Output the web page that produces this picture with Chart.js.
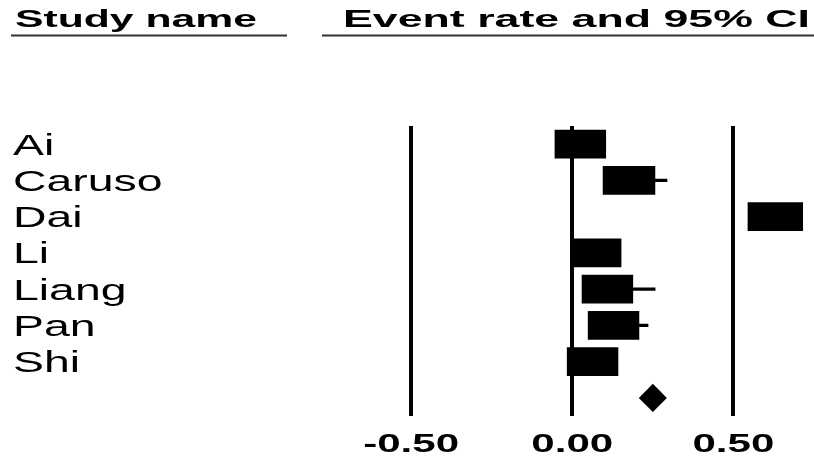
<!DOCTYPE html>
<html>
<head>
<meta charset="utf-8">
<title>Event rate and 95% CI</title>
<script src="https://cdn.jsdelivr.net/npm/chart.js@4.4.1/dist/chart.umd.min.js"></script>
<style>
  html, body { margin: 0; padding: 0; background: #fff; }
  #wrap { position: relative; width: 814px; height: 459px; }
</style>
</head>
<body>
<div id="wrap"><canvas id="forest"></canvas></div>
<script>
// study rows, top to bottom
const studies = ["Ai", "Caruso", "Dai", "Li", "Liang", "Pan", "Shi"];
const eventRate = [0.025, 0.176, 0.630, 0.077, 0.109, 0.128, 0.063];
const lowerCI = [-0.01, 0.11, 0.57, 0.03, 0.04, 0.06, 0.02];
const upperCI = [0.07, 0.294, 0.69, 0.13, 0.257, 0.235, 0.11];
const relWeight = [14.2, 14.5, 15.3, 13.4, 14.2, 14.2, 14.2];

// pooled estimate (diamond)
const summaryRate = 0.250;
const summaryLower = 0.207;
const summaryUpper = 0.294;

const tickValues = [-0.5, 0, 0.5];
const tickLabels = ["-0.50", "0.00", "0.50"];

const rows = [...studies, ""];

// box width (in event-rate units) per percent of weight
const BOX_PER_WEIGHT = 0.0111;

const ciRanges = studies.map((s, i) => [lowerCI[i], upperCI[i]]);
const boxRanges = studies.map((s, i) => {
    const half = relWeight[i] * BOX_PER_WEIGHT / 2;
    return [eventRate[i] - half, eventRate[i] + half];
});

const FONT = '"Liberation Sans", Arial, Helvetica, sans-serif';

function stretchText(ctx, text, x, y, sx, align) {
    ctx.save();
    ctx.translate(x, y);
    ctx.scale(sx, 1);
    ctx.textAlign = align || "left";
    ctx.fillText(text, 0, 0);
    ctx.restore();
}

function fitText(ctx, text, x, y, width) {
    const w = ctx.measureText(text).width;
    stretchText(ctx, text, x, y, width / w, "left");
}

const forestText = {
    id: "forestText",
    afterDraw(chart) {
        const {ctx, scales: {x, y}} = chart;
        ctx.save();
        ctx.fillStyle = "#000";
        ctx.textBaseline = "alphabetic";

        // column headers + rules
        ctx.font = "bold 24px " + FONT;
        fitText(ctx, "Study name", 15, 27, 242);
        fitText(ctx, "Event rate and 95% CI", 343, 27, 467);
        ctx.strokeStyle = "#333";
        ctx.lineWidth = 2;
        ctx.beginPath();
        ctx.moveTo(11, 35.5); ctx.lineTo(287, 35.5);
        ctx.moveTo(322, 35.5); ctx.lineTo(814, 35.5);
        ctx.stroke();

        // study names
        ctx.font = "29px " + FONT;
        rows.forEach((name, i) => {
            if (!name) return;
            stretchText(ctx, name, 13, y.getPixelForValue(i) + 10.5, 1.6, "left");
        });

        // axis labels
        ctx.font = "bold 26px " + FONT;
        tickValues.forEach((v, i) => {
            stretchText(ctx, tickLabels[i], x.getPixelForValue(v), 452, 1.62, "center");
        });
        ctx.restore();
    }
};

new Chart(document.getElementById("forest"), {
    type: "bar",
    data: {
        labels: rows,
        datasets: [
            {
                label: "95% CI",
                data: ciRanges,
                backgroundColor: "#000",
                barThickness: 2.5,
                grouped: false,
                order: 2
            },
            {
                label: "Event rate",
                data: boxRanges,
                backgroundColor: "#000",
                barThickness: 28,
                grouped: false,
                order: 1
            },
            {
                type: "scatter",
                label: "Pooled",
                data: [{x: summaryRate, y: ""}],
                pointStyle: "rectRot",
                pointRadius: (c) => {
                    const sx = c.chart.scales.x;
                    return (sx.getPixelForValue(summaryUpper) - sx.getPixelForValue(summaryLower)) / 2;
                },
                backgroundColor: "#000",
                borderColor: "#000",
                borderWidth: 0,
                order: 0
            }
        ]
    },
    options: {
        indexAxis: "y",
        responsive: true,
        maintainAspectRatio: false,
        animation: false,
        events: [],
        layout: {padding: {left: 250, right: 0, top: 126, bottom: 43}},
        plugins: {legend: {display: false}, tooltip: {enabled: false}},
        scales: {
            x: {
                type: "linear",
                min: -1,
                max: 0.75,
                afterBuildTicks: (axis) => { axis.ticks = tickValues.map(v => ({value: v})); },
                grid: {color: "#000", lineWidth: 4, drawTicks: false},
                border: {display: false},
                ticks: {display: false}
            },
            y: {
                type: "category",
                offset: true,
                display: false
            }
        }
    },
    plugins: [forestText]
});
</script>
</body>
</html>
